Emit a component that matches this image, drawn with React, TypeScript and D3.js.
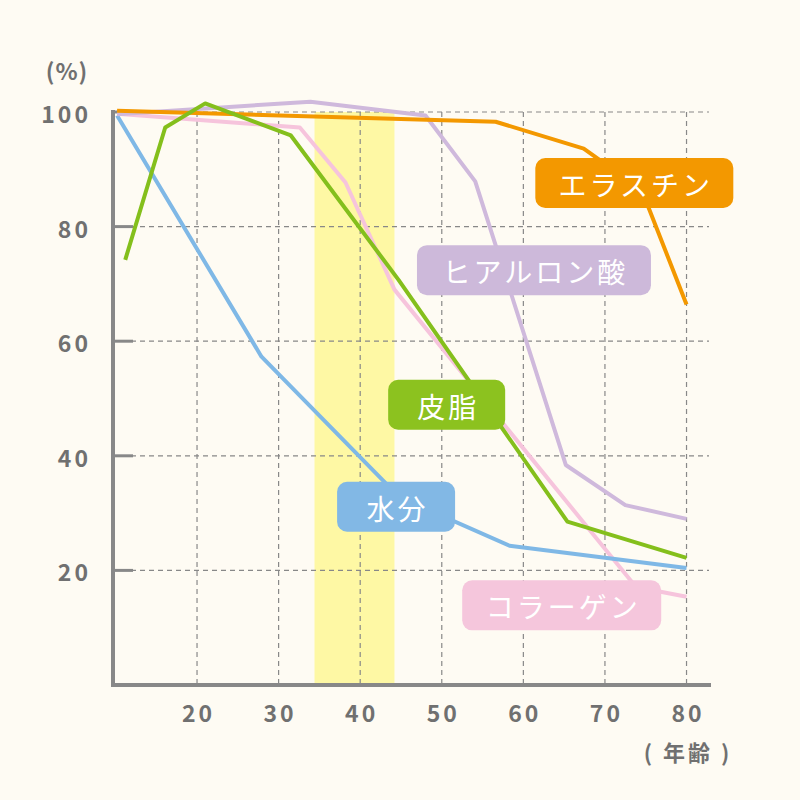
import React from "react";
import * as d3 from "d3";

const xTicks = [20, 30, 40, 50, 60, 70, 80];
const yTicks = [20, 40, 60, 80, 100];
const band = [34.4, 44.2];

const water: [number, number][] = [[10.2, 99.4], [27.9, 57.3], [44.8, 32.8], [58.3, 24.3], [80, 20.4]];
const sebum: [number, number][] = [[11.2, 74.2], [16.1, 97.3], [21.0, 101.5], [31.5, 95.9], [44.7, 70.7], [65.4, 28.5], [80, 22.2]];
const collagen: [number, number][] = [[10.2, 99.7], [32.6, 97.3], [38.2, 87.7], [44.2, 69.0], [73.8, 17.1], [80, 15.4]];
const hyaluronic: [number, number][] = [[10.2, 99.6], [33.9, 101.8], [48.0, 99.4], [54.1, 87.9], [65.2, 38.4], [72.5, 31.4], [80, 29.0]];
const elastin: [number, number][] = [[10.2, 100.2], [56.6, 98.3], [67.4, 93.6], [74.5, 86.4], [80, 66.4]];

const seriesNames = ["コラーゲン", "水分", "ヒアルロン酸", "エラスチン", "皮脂"];
const seriesData = [collagen, water, hyaluronic, elastin, sebum];
const seriesColors = ["#f6c4dc", "#7fb8e6", "#cfb9dc", "#f39800", "#84bf1c"];
const boxColors = ["#f5c6dc", "#82b8e5", "#cdb9da", "#f39800", "#8cc21f"];

// label box centers in data units
const labelAges = [64.7, 44.4, 61.3, 73.6, 50.6];
const labelValues = [13.9, 31.1, 72.4, 87.6, 48.9];
const labelWidths = [199, 118, 234, 198, 117];

export default function App() {
  const W = 800, H = 800;
  const x = d3.scaleLinear().domain([9.7, 83]).range([113, 711]);
  const y = d3.scaleLinear().domain([0, 100]).range([685, 112]);
  const line = d3.line<[number, number]>().x(d => x(d[0])).y(d => y(d[1]));
  const gray = "#888888";
  const textGray = "#707070";
  const font = "'Noto Sans CJK JP', 'Noto Sans', sans-serif";
  const x0 = x(9.7);
  return (
    <svg width={W} height={H} style={{ display: "block", position: "absolute", left: 0, top: 0 }}>
      <rect x={0} y={0} width={W} height={H} fill="#fefbf3" />
      <rect x={x(band[0])} y={y(100)} width={x(band[1]) - x(band[0])} height={y(0) - y(100)} fill="#fef8a4" />
      {yTicks.map(t => (
        <line key={"h" + t} x1={x0} x2={709} y1={y(t)} y2={y(t)} stroke={gray} strokeWidth={1.2} strokeDasharray="5,4" />
      ))}
      {xTicks.map(t => (
        <line key={"v" + t} x1={x(t)} x2={x(t)} y1={y(100)} y2={y(0)} stroke={gray} strokeWidth={1.2} strokeDasharray="5,4" />
      ))}
      {yTicks.map(t => (
        <line key={"t" + t} x1={x0} x2={x0 + 20} y1={y(t)} y2={y(t)} stroke={gray} strokeWidth={3} />
      ))}
      <path d={`M${x0},${y(100) - 2} L${x0},${y(0)} L711,${y(0)}`} fill="none" stroke={gray} strokeWidth={4} />
      {seriesData.map((s, i) => (
        <path key={"s" + i} d={line(s) || ""} fill="none" stroke={seriesColors[i]} strokeWidth={4} strokeLinejoin="round" />
      ))}
      {seriesNames.map((n, i) => {
        const cx = x(labelAges[i]);
        const cy = y(labelValues[i]);
        const w = labelWidths[i];
        return (
          <g key={"l" + i}>
            <rect x={cx - w / 2} y={cy - 25} width={w} height={50} rx={10} ry={10} fill={boxColors[i]} />
            <text x={cx + 1.5} y={cy + 1} textAnchor="middle" dominantBaseline="central" fill="#ffffff" fontFamily={font} fontSize={28} letterSpacing={3}>{n}</text>
          </g>
        );
      })}
      {yTicks.map(t => (
        <text key={"yl" + t} x={91} y={y(t) + 1} textAnchor="end" dominantBaseline="central" fill={textGray} fontFamily={font} fontWeight={700} fontSize={23} letterSpacing={3}>{t}</text>
      ))}
      {xTicks.map(t => (
        <text key={"xl" + t} x={x(t) + 1.5} y={712} textAnchor="middle" dominantBaseline="central" fill={textGray} fontFamily={font} fontWeight={700} fontSize={23} letterSpacing={3}>{t}</text>
      ))}
      <text x={67} y={70} textAnchor="middle" dominantBaseline="central" fill={textGray} fontFamily={font} fontWeight={700} fontSize={23} letterSpacing={1}>(%)</text>
      <text x={688} y={751} textAnchor="middle" dominantBaseline="central" fill={textGray} fontFamily={font} fontWeight={700} fontSize={22} letterSpacing={3} xmlSpace="preserve">( 年齢 )</text>
    </svg>
  );
}
